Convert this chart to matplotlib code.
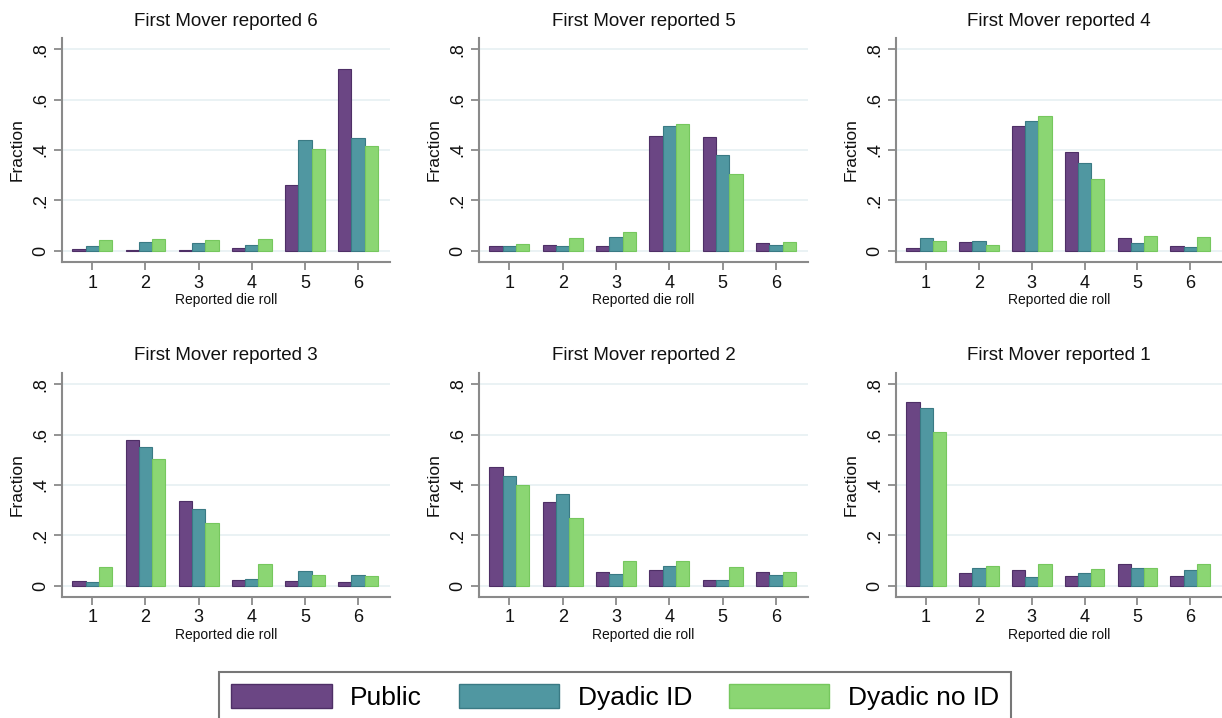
import matplotlib
matplotlib.use("Agg")
import matplotlib.pyplot as plt
from matplotlib.patches import Patch
import numpy as np

plt.rcParams['font.family'] = ['Liberation Sans', 'DejaVu Sans']

die = [1, 2, 3, 4, 5, 6]
series = ["Public", "Dyadic ID", "Dyadic no ID"]
titles = ["First Mover reported 6", "First Mover reported 5", "First Mover reported 4",
          "First Mover reported 3", "First Mover reported 2", "First Mover reported 1"]

# values per panel: [Public, Dyadic ID, Dyadic no ID], each for die roll 1..6
fm6_public = [0.008, 0.005, 0.004, 0.010, 0.260, 0.720]
fm6_dyid   = [0.020, 0.036, 0.030, 0.025, 0.440, 0.447]
fm6_dynoid = [0.043, 0.046, 0.042, 0.046, 0.402, 0.417]

fm5_public = [0.020, 0.022, 0.020, 0.455, 0.452, 0.030]
fm5_dyid   = [0.020, 0.020, 0.056, 0.497, 0.382, 0.025]
fm5_dynoid = [0.026, 0.052, 0.073, 0.504, 0.305, 0.036]

fm4_public = [0.010, 0.035, 0.495, 0.392, 0.052, 0.018]
fm4_dyid   = [0.050, 0.040, 0.515, 0.350, 0.030, 0.015]
fm4_dynoid = [0.040, 0.022, 0.535, 0.285, 0.060, 0.056]

fm3_public = [0.020, 0.580, 0.335, 0.025, 0.020, 0.015]
fm3_dyid   = [0.015, 0.550, 0.305, 0.027, 0.060, 0.045]
fm3_dynoid = [0.075, 0.502, 0.250, 0.085, 0.045, 0.040]

fm2_public = [0.472, 0.333, 0.055, 0.062, 0.025, 0.054]
fm2_dyid   = [0.437, 0.365, 0.048, 0.080, 0.022, 0.045]
fm2_dynoid = [0.400, 0.270, 0.097, 0.097, 0.075, 0.056]

fm1_public = [0.730, 0.050, 0.063, 0.040, 0.085, 0.040]
fm1_dyid   = [0.707, 0.070, 0.035, 0.050, 0.070, 0.065]
fm1_dynoid = [0.610, 0.080, 0.085, 0.068, 0.072, 0.085]

panels = [
    (fm6_public, fm6_dyid, fm6_dynoid),
    (fm5_public, fm5_dyid, fm5_dynoid),
    (fm4_public, fm4_dyid, fm4_dynoid),
    (fm3_public, fm3_dyid, fm3_dynoid),
    (fm2_public, fm2_dyid, fm2_dynoid),
    (fm1_public, fm1_dyid, fm1_dynoid),
]

yticks = [0, 0.2, 0.4, 0.6, 0.8]
yticklabels = ["0", ".2", ".4", ".6", ".8"]

colors = ["#6B4684", "#5097A1", "#8BD673"]
edges = ["#4E2F66", "#3A7A84", "#76C75E"]

W, H = 1222, 718
fig = plt.figure(figsize=(W / 100, H / 100), dpi=100)

lefts = [62, 479, 896]
widths = [328, 329, 326]
tops = [38, 373]
ax_h = 224

spine_col = "#8A8A8A"
bw = 0.25
offsets = [-0.25, 0.0, 0.25]

for i, (title, vals) in enumerate(zip(titles, panels)):
    r, c = divmod(i, 3)
    l = lefts[c] / W
    w = widths[c] / W
    b = (H - tops[r] - ax_h) / H
    h = ax_h / H
    ax = fig.add_axes([l, b, w, h])
    x = np.array(die, dtype=float)
    for s in range(3):
        ax.bar(x + offsets[s], vals[s], width=bw, color=colors[s],
               edgecolor=edges[s], linewidth=0.8, zorder=3)
    ax.set_xlim(0.43, 6.6)
    ax.set_ylim(-0.044, 0.844)
    ax.set_yticks(yticks)
    ax.set_yticklabels(yticklabels, rotation=90, va="center", fontsize=13)
    ax.set_xticks(die)
    ax.set_xticklabels([str(d) for d in die], fontsize=13)
    ax.grid(axis="y", color="#E6F0F2", linewidth=1.2, zorder=0)
    ax.set_axisbelow(True)
    for sp in ["top", "right"]:
        ax.spines[sp].set_visible(False)
    for sp in ["left", "bottom"]:
        ax.spines[sp].set_color(spine_col)
        ax.spines[sp].set_linewidth(1.5)
    ax.tick_params(axis="both", colors=spine_col, length=6, width=1.3,
                   labelcolor="#111111")
    ax.tick_params(axis="y", pad=3)
    ax.tick_params(axis="x", pad=3)
    ax.set_title(title, fontsize=13.5, pad=9, color="#111111")
    ax.set_ylabel("Fraction", fontsize=12.5, labelpad=6, color="#111111")
    ax.set_xlabel("Reported die roll", fontsize=10, labelpad=1, color="#111111")

handles = [Patch(facecolor=colors[s], edgecolor=edges[s], linewidth=1.0)
           for s in range(3)]
leg = fig.legend(handles, series, loc="upper center",
                 bbox_to_anchor=(615 / W, 1 - 672 / H), ncol=3, fontsize=19,
                 frameon=True, fancybox=False, handlelength=3.8, handleheight=1.05,
                 handletextpad=0.7, columnspacing=1.4, borderpad=0.45,
                 borderaxespad=0.0)
leg.get_frame().set_edgecolor("#555555")
leg.get_frame().set_linewidth(1.5)

fig.savefig("out.png", dpi=100, facecolor="white")
